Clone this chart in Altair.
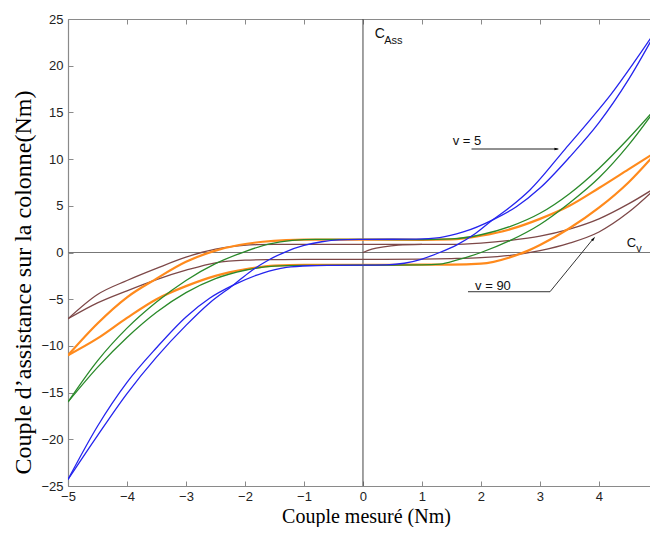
import altair as alt
import pandas as pd

# ---------------- data ----------------
X_TICKS = [-5, -4, -3, -2, -1, 0, 1, 2, 3, 4, 5]
Y_TICKS = [-25, -20, -15, -10, -5, 0, 5, 10, 15, 20, 25]

# v = 5 (blue)
blue_up_x = [-5, -4.5, -4.0, -3.5, -3.0, -2.6, -2.2, -1.9, -1.6, -1.3, -1.0, -0.7, -0.4, 0.0, 0.5, 0.9, 1.3, 1.7, 2.2, 2.6, 3.0, 3.5, 4.0, 4.5, 5.0]
blue_up_y = [-24.3, -19.6, -15.1, -11.2, -7.8, -5.4, -3.5, -2.0, -0.8, 0.1, 0.75, 1.15, 1.35, 1.4, 1.42, 1.44, 1.6, 2.2, 3.5, 4.9, 6.9, 10.2, 13.9, 18.5, 24.0]
blue_lo_x = [-5, -4.5, -4.0, -3.5, -3.0, -2.6, -2.2, -1.7, -1.3, -0.9, -0.5, 0.0, 0.4, 0.7, 1.0, 1.3, 1.6, 1.9, 2.2, 2.5, 2.83, 3.43, 3.85, 4.2, 4.6, 5.0]
blue_lo_y = [-24.3, -18.6, -13.9, -10.2, -6.9, -4.9, -3.5, -2.2, -1.6, -1.42, -1.38, -1.35, -1.32, -1.15, -0.7, 0.0, 0.85, 2.0, 3.5, 4.9, 6.7, 11.1, 14.2, 16.9, 20.4, 24.1]

# green
green_up_x = [-5, -4.5, -4.0, -3.5, -3.0, -2.5, -2.0, -1.6, -1.2, -0.8, 0.0, 1.0, 1.5, 2.0, 2.5, 3.0, 3.5, 4.0, 4.5, 5.0]
green_up_y = [-16.0, -11.6, -8.1, -5.3, -3.0, -1.2, 0.1, 0.9, 1.3, 1.4, 1.4, 1.38, 1.45, 1.9, 2.8, 4.2, 6.3, 9.0, 12.2, 15.7]
green_lo_x = [-5, -4.5, -4.0, -3.5, -3.0, -2.5, -2.0, -1.5, -1.0, 0.0, 1.0, 1.3, 1.6, 2.0, 2.5, 3.0, 3.5, 4.0, 4.5, 5.0]
green_lo_y = [-16.0, -12.3, -9.1, -6.4, -4.3, -2.8, -1.9, -1.45, -1.38, -1.35, -1.33, -1.25, -0.8, 0.0, 1.3, 3.0, 5.3, 8.0, 11.5, 15.7]

# orange
orange_up_x = [-5, -4.5, -4.0, -3.5, -3.0, -2.5, -2.1, -1.7, -1.3, -1.0, 0.0, 1.0, 1.5, 2.0, 2.5, 3.0, 3.5, 4.0, 4.5, 5.0]
orange_up_y = [-11.0, -7.6, -4.8, -2.8, -1.0, 0.2, 0.8, 1.15, 1.33, 1.38, 1.38, 1.36, 1.4, 1.8, 2.5, 3.6, 5.0, 6.9, 8.9, 10.9]
orange_lo_x = [-5, -4.5, -4.0, -3.5, -3.0, -2.5, -2.0, -1.5, -1.0, 0.0, 1.0, 1.5, 2.0, 2.5, 2.8, 3.0, 3.5, 4.0, 4.5, 5.0]
orange_lo_y = [-11.0, -9.2, -7.0, -5.0, -3.6, -2.5, -1.8, -1.4, -1.33, -1.33, -1.3, -1.3, -1.2, -0.5, 0.2, 0.8, 2.6, 4.8, 7.5, 10.9]

# v = 90 (brown)
brown_up_x = [-5, -4.5, -4.0, -3.5, -3.0, -2.5, -2.2, -1.8, -1.5, -1.0, 0.0, 1.0, 1.5, 2.0, 2.5, 3.0, 3.5, 4.0, 4.5, 5.0]
brown_up_y = [-7.1, -4.5, -3.0, -1.7, -0.5, 0.35, 0.65, 0.84, 0.88, 0.88, 0.88, 0.86, 0.86, 1.0, 1.3, 1.75, 2.5, 3.6, 5.2, 7.1]
brown_lo_x = [-5, -4.5, -4.0, -3.5, -3.0, -2.5, -2.0, -1.5, -1.0, 0.0, 1.0, 1.5, 2.0, 2.5, 3.0, 3.5, 4.0, 4.5, 5.0]
brown_lo_y = [-7.1, -5.4, -4.1, -2.9, -1.9, -1.1, -0.82, -0.76, -0.73, -0.73, -0.7, -0.65, -0.55, -0.3, 0.2, 1.0, 2.2, 4.3, 7.1]
brown_start_x = [0.0, 0.15, 0.35, 0.6, 1.0]
brown_start_y = [0.0, 0.35, 0.6, 0.78, 0.86]

# annotations
note_text = ["C", "Ass", "C", "v", "v = 5", "v = 90"]
note_x = [0.2, 0.36, 4.47, 4.63, 1.52, 1.9]
note_y = [22.95, 22.3, 0.62, 0.06, 11.5, -4.0]
note_size = [14, 11, 13, 11, 13, 13]

arrow5_x = [1.84, 3.30]
arrow5_y = [11.08, 11.08]
arrow90_x = [1.78, 3.17, 3.90]
arrow90_y = [-4.2, -4.2, 1.45]
head_x = [3.286, 3.909]
head_y = [11.08, 1.48]
head_angle = [90, 39.5]


def frame(xs, ys, branch):
    return pd.DataFrame({"x": xs, "y": ys, "branche": branch})


blue_df = pd.concat([frame(blue_up_x, blue_up_y, "a"), frame(blue_lo_x, blue_lo_y, "b")])
green_df = pd.concat([frame(green_up_x, green_up_y, "a"), frame(green_lo_x, green_lo_y, "b")])
orange_df = pd.concat([frame(orange_up_x, orange_up_y, "a"), frame(orange_lo_x, orange_lo_y, "b")])
brown_df = pd.concat([frame(brown_up_x, brown_up_y, "a"), frame(brown_lo_x, brown_lo_y, "b"),
                      frame(brown_start_x, brown_start_y, "c")])

# The reference crops the plot's right edge (x = 5) off the picture;
# the visible part of the x range ends just before it.
X_VISIBLE_END = 4.865
W, H = 582, 467
GREY = "#8a8a8a"
SANS = "Liberation Sans"
SERIF = "Liberation Serif"

xsc = alt.Scale(domain=[-5, X_VISIBLE_END], nice=False, zero=False)
ysc = alt.Scale(domain=[-25, 25], nice=False, zero=False)

x_axis = alt.Axis(values=X_TICKS, ticks=False, tickSize=0, labelFlush=False, grid=False,
                  labelFont=SANS, labelFontSize=13, labelColor="#222", labelPadding=4,
                  domainColor=GREY, domainWidth=1.2,
                  title="Couple mesuré (Nm)", titleFont=SERIF, titleFontSize=20,
                  titleFontWeight="normal", titleColor="#000", titleBaseline="alphabetic",
                  titleX=298, titleY=36)
y_axis = alt.Axis(values=Y_TICKS, ticks=False, tickSize=0, labelFlush=False, grid=False,
                  labelFont=SANS, labelFontSize=13, labelColor="#222", labelPadding=5,
                  domainColor=GREY, domainWidth=1.2,
                  title="Couple d’assistance sur la colonne(Nm)", titleFont=SERIF,
                  titleFontSize=24, titleFontWeight="normal", titleColor="#000",
                  titleBaseline="alphabetic", titleAngle=270, titleX=-38, titleY=263)

X = alt.X("x:Q", scale=xsc, axis=x_axis)
Y = alt.Y("y:Q", scale=ysc, axis=y_axis)


def lines(df, color, width):
    return alt.Chart(df).mark_line(color=color, strokeWidth=width, clip=True,
                                   interpolate="monotone").encode(
        x=X, y=Y, detail="branche:N")


zero_v = alt.Chart(pd.DataFrame({"x": [0]})).mark_rule(color="#444", strokeWidth=1).encode(x=X)
zero_h = alt.Chart(pd.DataFrame({"y": [0]})).mark_rule(color="#777", strokeWidth=1).encode(y=Y)

notes = alt.Chart(pd.DataFrame({"t": note_text, "x": note_x, "y": note_y, "fs": note_size})).mark_text(
    align="left", baseline="alphabetic", font=SANS, color="#111").encode(
    x=X, y=Y, text="t:N", size=alt.Size("fs:Q", scale=None))

arrow5 = alt.Chart(pd.DataFrame({"x": arrow5_x, "y": arrow5_y, "o": [0, 1]})).mark_line(
    color="#222", strokeWidth=1).encode(x=X, y=Y, order="o:Q")
arrow90 = alt.Chart(pd.DataFrame({"x": arrow90_x, "y": arrow90_y, "o": [0, 1, 2]})).mark_line(
    color="#333", strokeWidth=1).encode(x=X, y=Y, order="o:Q")
heads = alt.Chart(pd.DataFrame({"x": head_x, "y": head_y, "a": head_angle})).mark_point(
    shape="M0,-0.6L0.33,0.6L-0.33,0.6Z", filled=True, color="#000", opacity=1, size=64).encode(
    x=X, y=Y, angle=alt.Angle("a:Q", scale=None))

inner = alt.layer(
    zero_h, zero_v,
    lines(brown_df, "#7d4848", 1.3),
    lines(orange_df, "#ff8a1c", 2.2),
    lines(green_df, "#2a8a2a", 1.3),
    lines(blue_df, "#2424ee", 1.3),
    arrow5, arrow90, heads, notes,
)

corner = pd.DataFrame({"x": [-5, X_VISIBLE_END], "y": [-25, 25]})
tick_style = dict(labels=False, domain=False, grid=False, ticks=True, tickSize=5,
                  tickColor=GREY, tickWidth=1)

# inward ticks on the bottom and left edges
ticks_in = alt.Chart(corner).mark_point(opacity=0).encode(
    x=alt.X("x:Q", scale=xsc, title=None,
            axis=alt.Axis(values=X_TICKS, orient="top", offset=-H, **tick_style)),
    y=alt.Y("y:Q", scale=ysc, title=None,
            axis=alt.Axis(values=Y_TICKS, orient="right", offset=-W, **tick_style)),
)
# top frame line with its inward ticks
top_edge = alt.Chart(corner).mark_point(opacity=0).encode(
    x=alt.X("x:Q", scale=xsc, title=None,
            axis=alt.Axis(values=X_TICKS, orient="bottom", offset=-H, labels=False,
                          domain=True, domainColor=GREY, domainWidth=1.2, grid=False,
                          ticks=True, tickSize=5, tickColor=GREY, tickWidth=1)),
    y=alt.Y("y:Q", scale=ysc, axis=None),
)

chart = alt.layer(inner, ticks_in, top_edge).resolve_scale(
    x="independent", y="independent"
).properties(
    width=W, height=H,
    padding={"left": 60, "top": 11, "right": 0, "bottom": 41},
    autosize=alt.AutoSizeParams(type="none"),
    background="white",
).configure_view(strokeWidth=0)

chart.save("out.html", embed_options={"renderer": "svg", "actions": False})
